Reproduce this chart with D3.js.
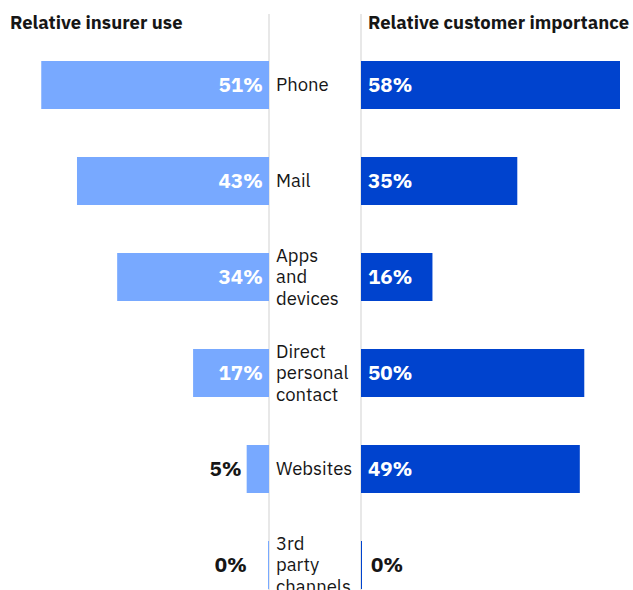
<!DOCTYPE html>
<html>
<head>
<meta charset="utf-8">
<script src="https://cdn.jsdelivr.net/npm/d3@7"></script>
<style>
  body { margin: 0; background: #fff; }
  svg { display: block; }
</style>
</head>
<body>
<script>
// chart data
var categories = ["Phone", "Mail", "Apps and devices", "Direct personal contact", "Websites", "3rd party channels"];
var insurerUse = [51, 43, 34, 17, 5, 0];
var customerImportance = [58, 35, 16, 50, 49, 0];
var labelLines = [["Phone"], ["Mail"], ["Apps", "and", "devices"], ["Direct", "personal", "contact"], ["Websites"], ["3rd", "party", "channels"]];

var width = 633, height = 590;
var leftEdge = 10, leftAxis = 269, rightAxis = 361;

var svg = d3.select("body").append("svg")
    .attr("width", width)
    .attr("height", height);

// set the ranges
var y = d3.scaleBand().domain(categories).range([37, 613]).paddingInner(0.5).paddingOuter(0.25);
var maxVal = d3.max(insurerUse.concat(customerImportance));
var xLeft = d3.scaleLinear().domain([0, maxVal]).range([leftAxis, leftEdge]);
var xRight = d3.scaleLinear().domain([0, maxVal]).range([rightAxis, rightAxis + (leftAxis - leftEdge)]);

var rows = categories.map(function(c, i) {
    return { name: c, lines: labelLines[i], left: insurerUse[i], right: customerImportance[i] };
});

// divider lines
svg.selectAll(".divider")
    .data([leftAxis, rightAxis])
    .enter().append("line")
    .attr("x1", function(d) { return d; })
    .attr("x2", function(d) { return d; })
    .attr("y1", 14)
    .attr("y2", height)
    .style("stroke", "#e0e0e0")
    .style("stroke-width", 1.5);

// left bars
svg.selectAll(".barLeft")
    .data(rows)
    .enter().append("rect")
    .attr("x", function(d) { return Math.min(xLeft(d.left), leftAxis - 1); })
    .attr("width", function(d) { return Math.max(1, leftAxis - xLeft(d.left)); })
    .attr("y", function(d) { return y(d.name); })
    .attr("height", y.bandwidth())
    .style("fill", "#78a9ff");

// right bars
svg.selectAll(".barRight")
    .data(rows)
    .enter().append("rect")
    .attr("x", rightAxis)
    .attr("width", function(d) { return Math.max(1, xRight(d.right) - rightAxis); })
    .attr("y", function(d) { return y(d.name); })
    .attr("height", y.bandwidth())
    .style("fill", "#0043ce");

var font = "'IBM Plex Sans', 'Noto Sans', sans-serif";

// left value labels: inside the bar when it is wide enough, outside otherwise
svg.selectAll(".valLeft")
    .data(rows)
    .enter().append("text")
    .attr("x", function(d) {
        if (d.left >= 10) return leftAxis - 6;
        return d.left === 0 ? leftAxis - 22 : xLeft(d.left) - 5;
    })
    .attr("y", function(d) { return y(d.name) + y.bandwidth() / 2; })
    .attr("dy", "0.36em")
    .attr("text-anchor", "end")
    .style("font-family", font)
    .style("font-weight", "bold")
    .style("font-size", "20.5px")
    .style("fill", function(d) { return d.left >= 10 ? "#ffffff" : "#161616"; })
    .text(function(d) { return d.left + "%"; });

// right value labels
svg.selectAll(".valRight")
    .data(rows)
    .enter().append("text")
    .attr("x", function(d) { return d.right >= 10 ? rightAxis + 7 : xRight(d.right) + 10; })
    .attr("y", function(d) { return y(d.name) + y.bandwidth() / 2; })
    .attr("dy", "0.36em")
    .style("font-family", font)
    .style("font-weight", "bold")
    .style("font-size", "20.5px")
    .style("fill", function(d) { return d.right >= 10 ? "#ffffff" : "#161616"; })
    .text(function(d) { return d.right + "%"; });

// category labels
var cat = svg.selectAll(".cat")
    .data(rows)
    .enter().append("text")
    .attr("x", leftAxis + 7)
    .attr("y", function(d) { return y(d.name) + y.bandwidth() / 2; })
    .style("font-family", font)
    .style("font-size", "18.5px")
    .style("fill", "#161616");

cat.selectAll("tspan")
    .data(function(d) { return d.lines.map(function(t, i) { return { t: t, i: i, n: d.lines.length }; }); })
    .enter().append("tspan")
    .attr("x", leftAxis + 7)
    .attr("dy", function(d) { return d.i === 0 ? (0.35 - (d.n - 1) * 0.575) + "em" : "1.15em"; })
    .text(function(d) { return d.t; });

// titles
svg.append("text")
    .attr("x", leftEdge)
    .attr("y", 29)
    .style("font-family", font)
    .style("font-weight", "bold")
    .style("font-size", "18.5px")
    .style("fill", "#161616")
    .text("Relative insurer use");

svg.append("text")
    .attr("x", 368)
    .attr("y", 29)
    .style("font-family", font)
    .style("font-weight", "bold")
    .style("font-size", "18.5px")
    .style("fill", "#161616")
    .text("Relative customer importance");
</script>
</body>
</html>
